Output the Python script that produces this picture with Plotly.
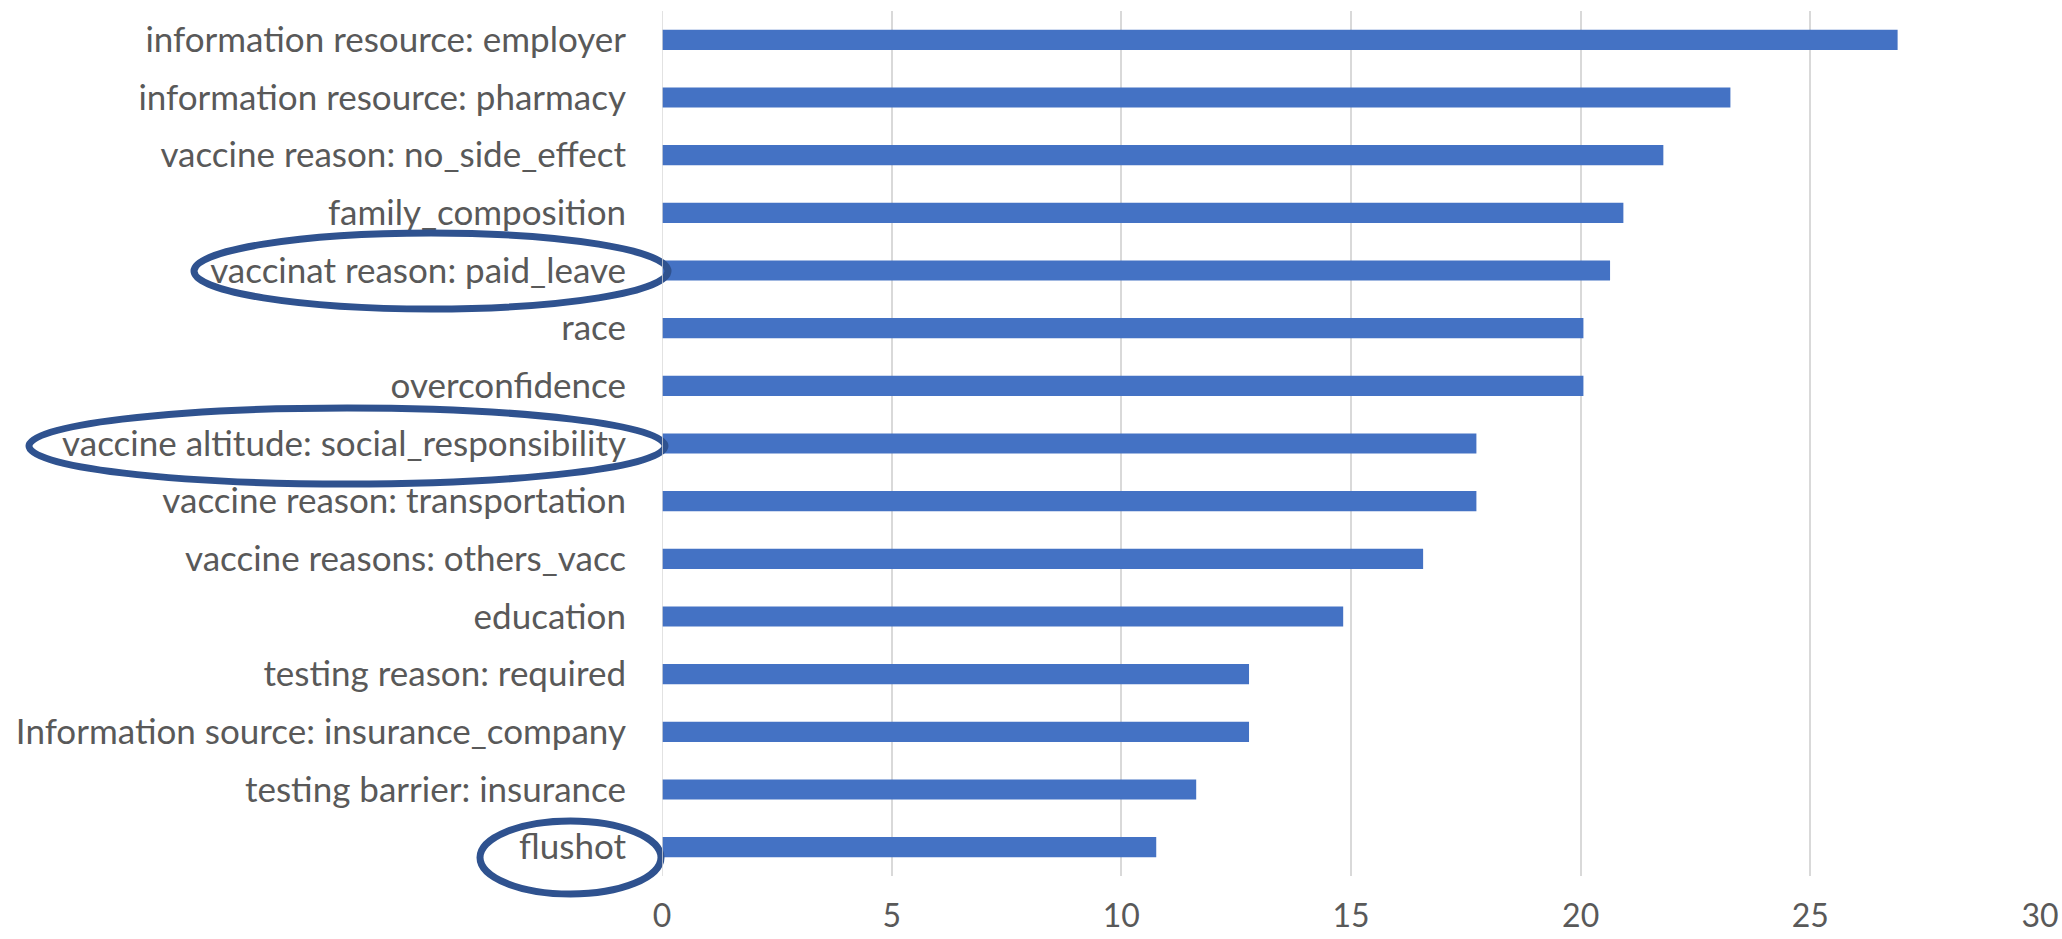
import plotly.graph_objects as go

categories = [
    "information resource: employer",
    "information resource: pharmacy",
    "vaccine reason: no_side_effect",
    "family_composition",
    "vaccinat reason: paid_leave",
    "race",
    "overconfidence",
    "vaccine altitude: social_responsibility",
    "vaccine reason: transportation",
    "vaccine reasons: others_vacc",
    "education",
    "testing reason: required",
    "Information source: insurance_company",
    "testing barrier: insurance",
    "flushot",
]
values = [26.9, 23.26, 21.8, 20.93, 20.64, 20.06, 20.06, 17.73, 17.73,
          16.57, 14.83, 12.78, 12.78, 11.63, 10.76]
x_ticks = [0, 5, 10, 15, 20, 25, 30]

FONT = "Lato"
TXT = "#595959"
FS = 35

fig = go.Figure(go.Bar(
    x=values, y=categories, orientation="h",
    marker=dict(color="#4472c4", line=dict(width=0)),
    width=0.35,
))

W, H = 2062, 939
L, R, T, B = 662, 22, 11, 63
pw, ph = W - L - R, H - T - B

def px2paper(x0, y0, x1, y1):
    return dict(x0=(x0 - L) / pw, x1=(x1 - L) / pw,
                y0=(H - B - y1) / ph, y1=(H - B - y0) / ph)

ellipses = [(194, 233, 668, 309), (29, 408, 665, 484), (480, 821, 661, 894)]
shapes = []
for e in ellipses:
    d = px2paper(*e)
    shapes.append(dict(type="circle", xref="paper", yref="paper",
                       line=dict(color="#2f528f", width=7),
                       fillcolor="rgba(0,0,0,0)", layer="above", **d))

fig.update_layout(
    width=W, height=H,
    margin=dict(l=L, r=R, t=T, b=B, pad=0, autoexpand=False),
    paper_bgcolor="white", plot_bgcolor="white",
    showlegend=False,
    font=dict(family=FONT, size=FS, color=TXT),
    xaxis=dict(range=[0, 30], tickvals=x_ticks, showgrid=True,
               gridcolor="#d9d9d9", gridwidth=1.5, zeroline=False,
               showline=False, ticks="", ticklabelstandoff=18,
               automargin=False,
               tickfont=dict(family=FONT, size=32, color=TXT)),
    yaxis=dict(autorange="reversed", showgrid=False, zeroline=False,
               showline=False, ticks="", ticklabelstandoff=35,
               automargin=False,
               tickfont=dict(family=FONT, size=FS, color=TXT)),
    shapes=shapes,
)
fig.add_vline(x=0, line=dict(color="#d9d9d9", width=1.5))

fig.write_html("out.html")
